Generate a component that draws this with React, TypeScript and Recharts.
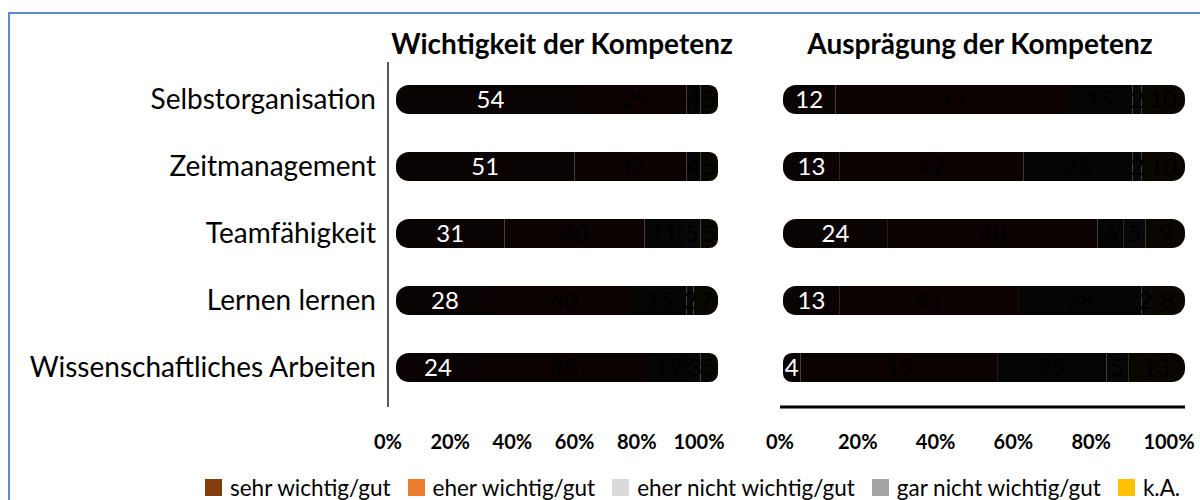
import React from 'react';
import { BarChart, Bar, XAxis, YAxis, LabelList } from 'recharts';

const categories = ['Selbstorganisation', 'Zeitmanagement', 'Teamfähigkeit', 'Lernen lernen', 'Wissenschaftliches Arbeiten'];

const seriesNames = ['sehr wichtig/gut', 'eher wichtig/gut', 'eher nicht wichtig/gut', 'gar nicht wichtig/gut', 'k.A.'];
const legendColors = ['#843c0c', '#ed7d31', '#d9d9d9', '#a5a5a5', '#ffc000'];

const wichtigSehr = [54, 51, 31, 28, 24];
const wichtigEher = [29, 32, 40, 40, 48];
const wichtigEherNicht = [4, 4, 11, 15, 12];
const wichtigGarNicht = [0, 0, 5, 2, 3];
const wichtigKA = [5, 5, 5, 7, 5];

const auspSehr = [12, 13, 24, 13, 4];
const auspEher = [53, 42, 48, 41, 45];
const auspEherNicht = [15, 25, 6, 28, 25];
const auspGarNicht = [2, 2, 5, 2, 5];
const auspKA = [10, 10, 9, 8, 13];

const tickValues = [0, 0.2, 0.4, 0.6, 0.8, 1];

const keys = ['s1', 's2', 's3', 's4', 's5'];
// bars are rendered almost black in the reference
const barFills = ['#0a0303', '#0c0202', '#060505', '#080808', '#0a0600'];
const labelFills = ['#ffffff', '#000000', '#000000', '#000000', '#000000'];

const build = (a: number[], b: number[], c: number[], d: number[], e: number[]) =>
  categories.map((name, i) => ({ name, s1: a[i], s2: b[i], s3: c[i], s4: d[i], s5: e[i] }));

const wichtigData = build(wichtigSehr, wichtigEher, wichtigEherNicht, wichtigGarNicht, wichtigKA);
const auspData = build(auspSehr, auspEher, auspEherNicht, auspGarNicht, auspKA);

const FONT = 'Lato, "Open Sans", sans-serif';
const R = 13;

const radiusFor = (i: number): [number, number, number, number] =>
  i === 0 ? [R, 0, 0, R] : i === 4 ? [0, R, R, 0] : [0, 0, 0, 0];

const renderBars = () =>
  keys.map((k, i) => (
    <Bar
      key={k}
      dataKey={k}
      name={seriesNames[i]}
      stackId="a"
      xAxisId="bars"
      fill={barFills[i]}
      barSize={29}
      radius={radiusFor(i)}
      isAnimationActive={false}
    >
      <LabelList
        dataKey={k}
        position="center"
        fill={labelFills[i]}
        fontSize={24}
        fontFamily={FONT}
        formatter={(v: any) => (v ? v : '')}
      />
    </Bar>
  ));

const pct = (v: number) => `${Math.round(v * 100)}%`;

const tickStyle = { fill: '#000', fontSize: 20, fontWeight: 700, fontFamily: FONT };

export default function App() {
  return (
    <div
      style={{
        position: 'fixed',
        left: 0,
        top: 0,
        width: 1200,
        height: 500,
        overflow: 'hidden',
        background: '#fff',
        fontFamily: FONT,
      }}
    >
      <div
        style={{
          position: 'absolute',
          left: 8,
          top: 12,
          width: 1300,
          height: 600,
          border: '2px solid #5b8bd1',
        }}
      />
      <div style={{ position: 'absolute', left: 362, top: 26, width: 400, textAlign: 'center', fontSize: 28, fontWeight: 700 }}>
        Wichtigkeit der Kompetenz
      </div>
      <div style={{ position: 'absolute', left: 780, top: 26, width: 400, textAlign: 'center', fontSize: 28, fontWeight: 700 }}>
        Ausprägung der Kompetenz
      </div>

      <div style={{ position: 'absolute', left: 0, top: 0 }}>
        <BarChart
          width={740}
          height={500}
          data={wichtigData}
          layout="vertical"
          stackOffset="expand"
          margin={{ top: 62, right: 22, bottom: 63, left: 0 }}
        >
          <XAxis xAxisId="bars" type="number" domain={[0, 1]} padding={{ left: 8, right: 0 }} hide height={0} />
          <XAxis
            xAxisId="ticks"
            type="number"
            domain={[0, 1]}
            ticks={tickValues}
            tickFormatter={pct}
            padding={{ left: 0, right: 19 }}
            axisLine={false}
            tickLine={false}
            height={30}
            tickMargin={22}
            tick={tickStyle}
            interval={0}
          />
          <YAxis
            type="category"
            dataKey="name"
            width={388}
            padding={{ top: 4, bottom: 6 }}
            axisLine={{ stroke: '#595959', strokeWidth: 2 }}
            tickLine={false}
            tickSize={0}
            tickMargin={12}
            tick={{ fill: '#000', fontSize: 28, fontFamily: FONT }}
          />
          {renderBars()}
        </BarChart>
      </div>

      <div style={{ position: 'absolute', left: 745, top: 0 }}>
        <BarChart
          width={455}
          height={500}
          data={auspData}
          layout="vertical"
          stackOffset="expand"
          margin={{ top: 62, right: 15, bottom: 63, left: 35 }}
        >
          <XAxis xAxisId="bars" type="number" domain={[0, 1]} padding={{ left: 3, right: 0 }} hide height={0} />
          <XAxis
            xAxisId="ticks"
            type="number"
            domain={[0, 1]}
            ticks={tickValues}
            tickFormatter={pct}
            padding={{ left: 0, right: 16 }}
            axisLine={{ stroke: '#000', strokeWidth: 3 }}
            tickLine={false}
            height={30}
            tickMargin={22}
            tick={tickStyle}
            interval={0}
          />
          <YAxis type="category" dataKey="name" hide width={0} padding={{ top: 4, bottom: 6 }} />
          {renderBars()}
        </BarChart>
      </div>

      <div
        style={{
          position: 'absolute',
          left: 205,
          top: 474,
          display: 'flex',
          gap: 17,
          fontSize: 22.5,
          color: '#000',
          alignItems: 'center',
          whiteSpace: 'nowrap',
        }}
      >
        {seriesNames.map((n, i) => (
          <div key={n} style={{ display: 'flex', alignItems: 'center', gap: 8 }}>
            <span style={{ width: 17, height: 17, background: legendColors[i], display: 'inline-block' }} />
            <span>{n}</span>
          </div>
        ))}
      </div>
    </div>
  );
}
